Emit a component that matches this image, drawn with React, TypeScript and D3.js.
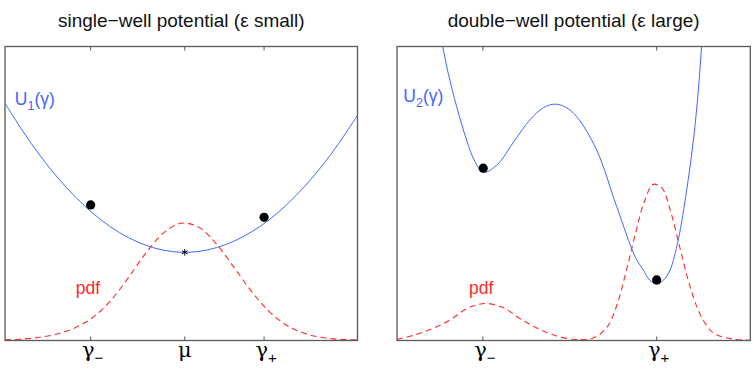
import { useRef, useEffect } from 'react';
import * as d3 from 'd3';

const W = 756;
const H = 375;

const titles = ['single−well potential (ε small)', 'double−well potential (ε large)'];

const u1Curve: [number, number][] = [
  [0, 80.7], [5, 71.3], [10, 62.8], [15, 55.3], [20, 48.8], [25, 43.2], [30, 38.6],
  [35, 35.0], [40, 32.4], [45, 30.7], [50, 30.0], [55, 30.3], [60, 31.6], [65, 33.8],
  [70, 37.0], [75, 41.1], [80, 46.3], [85, 52.4], [90, 59.5], [95, 67.6], [100, 76.6],
];

const pdf1Curve: [number, number][] = [
  [0, 0.2], [5, 0.5], [10, 1.1], [15, 2.3], [20, 4.4], [25, 7.9], [30, 13.6],
  [35, 21.4], [40, 29.8], [45, 36.6], [50, 39.9], [55, 38.5], [60, 32.8], [65, 24.8],
  [70, 16.6], [75, 9.8], [80, 5.1], [85, 2.4], [90, 1.0], [95, 0.4], [100, 0.2],
];

const u2Curve: [number, number][] = [
  [12, 104], [12.9, 100], [14.5, 90.9], [16.9, 79.5], [19.7, 68.2], [21.8, 61.5],
  [24.4, 57.2], [28.2, 59.6], [33.4, 68.2], [37.6, 75.0], [41.5, 79.2], [44.7, 80.4],
  [47.8, 79.3], [50.9, 76.1], [56.5, 64.8], [62.2, 45.5], [67.4, 28.5], [69.7, 24.0],
  [71.5, 20.6], [73.5, 19.2], [75.5, 20.6], [77.3, 24.0], [79.6, 34.2], [82.0, 51.2],
  [83.9, 68.2], [85.3, 85.2], [86.2, 100], [86.8, 110],
];

const pdf2Curve: [number, number][] = [
  [0, 0.4], [5, 1.9], [10, 4.0], [15, 7.0], [20, 11.0], [25, 12.6], [30, 11.2],
  [35, 7.3], [40, 4.0], [45, 1.6], [50, 0.4], [52.5, 0.3], [55, 0.6], [57.5, 2.2],
  [60, 5.5], [62.5, 13.0], [65, 24.2], [67.5, 36.4], [70, 47.2], [72.5, 53.1],
  [75, 51.8], [77.5, 43.7], [80, 31.9], [82.5, 20.2], [85, 11.1], [87.5, 5.3],
  [90, 2.2], [95, 0.5], [100, 0.1],
];

const dots1: [number, number][] = [[24.3, 46.1], [73.5, 41.9]];
const star1: [number, number][] = [[51, 30]];
const dots2: [number, number][] = [[24.4, 58.6], [73.5, 20.6]];

const ticks1 = [
  { v: 24.3, base: 'γ', sub: '−' },
  { v: 51, base: 'μ', sub: '' },
  { v: 73.5, base: 'γ', sub: '+' },
];
const ticks2 = [
  { v: 24.3, base: 'γ', sub: '−' },
  { v: 73.5, base: 'γ', sub: '+' },
];

const BLUE = '#4366ff';
const RED = '#ff2a2a';
const FONT = 'Liberation Sans, Arial, sans-serif';
const SERIF = 'DejaVu Serif, serif';

const App = () => {
  const svgRef = useRef<SVGSVGElement>(null);

  useEffect(() => {
    const svg = d3.select(svgRef.current);
    svg.selectAll('*').remove();

    const panels = [
      {
        left: 5, right: 357.5, title: titles[0], pot: u1Curve, pdf: pdf1Curve,
        dots: dots1, star: star1, ticks: ticks1, sub: '1', uPos: [2.8, 80], pdfPos: [20.1, 15.8],
      },
      {
        left: 397, right: 750.3, title: titles[1], pot: u2Curve, pdf: pdf2Curve,
        dots: dots2, star: [] as [number, number][], ticks: ticks2, sub: '2', uPos: [1.8, 81], pdfPos: [20.4, 15.8],
      },
    ];
    const top = 46.5;
    const bottom = 340.5;

    panels.forEach((p, i) => {
      const x = d3.scaleLinear().domain([0, 100]).range([p.left, p.right]);
      const y = d3.scaleLinear().domain([0, 100]).range([bottom, top]);
      const g = svg.append('g');

      const clipId = 'clip' + i;
      svg.append('clipPath').attr('id', clipId)
        .append('rect').attr('x', p.left).attr('y', top)
        .attr('width', p.right - p.left).attr('height', bottom - top);

      const line = d3.line<[number, number]>()
        .x((d) => x(d[0]))
        .y((d) => y(d[1]))
        .curve(d3.curveCatmullRom);

      const plot = g.append('g').attr('clip-path', `url(#${clipId})`);
      plot.append('path').attr('d', line(p.pdf))
        .attr('fill', 'none').attr('stroke', RED).attr('stroke-width', 1.1)
        .attr('stroke-dasharray', '6,4');
      plot.append('path').attr('d', line(p.pot))
        .attr('fill', 'none').attr('stroke', BLUE).attr('stroke-width', 1);

      // frame
      g.append('rect').attr('x', p.left).attr('y', top)
        .attr('width', p.right - p.left).attr('height', bottom - top)
        .attr('fill', 'none').attr('stroke', '#5a5a5a').attr('stroke-width', 1.3);

      // ticks top and bottom
      g.selectAll('.tb').data(p.ticks).join('line')
        .attr('x1', (d) => x(d.v)).attr('x2', (d) => x(d.v))
        .attr('y1', bottom).attr('y2', bottom - 4)
        .attr('stroke', '#555');
      g.selectAll('.tt').data(p.ticks).join('line')
        .attr('x1', (d) => x(d.v)).attr('x2', (d) => x(d.v))
        .attr('y1', top).attr('y2', top + 4)
        .attr('stroke', '#555');

      const labels = g.selectAll('.tl').data(p.ticks).join('text')
        .attr('x', (d) => x(d.v) + (d.sub ? 2 : 0))
        .attr('y', 357)
        .attr('text-anchor', 'middle')
        .attr('font-family', SERIF)
        .attr('font-size', 21)
        .attr('fill', '#000');
      labels.append('tspan').text((d) => d.base);
      labels.filter((d) => !!d.sub).append('tspan')
        .attr('dy', 6).attr('font-size', 15).attr('font-family', FONT).text((d) => d.sub);

      // markers
      g.selectAll('.dot').data(p.dots).join('circle')
        .attr('cx', (d) => x(d[0])).attr('cy', (d) => y(d[1]))
        .attr('r', 4.6).attr('fill', '#000');
      g.selectAll('.star').data(p.star).join('path')
        .attr('transform', (d) => `translate(${x(d[0])},${y(d[1])})`)
        .attr('d', d3.symbol(d3.symbolAsterisk, 30)())
        .attr('fill', 'none').attr('stroke', '#000').attr('stroke-width', 1);

      // title
      g.append('text').attr('x', (p.left + p.right) / 2).attr('y', 27)
        .attr('text-anchor', 'middle').attr('font-family', FONT)
        .attr('font-size', 19).attr('fill', '#111').text(p.title);

      // U label
      const u = g.append('text').attr('x', x(p.uPos[0])).attr('y', y(p.uPos[1]))
        .attr('font-family', FONT).attr('font-size', 17.5).attr('fill', BLUE);
      u.append('tspan').text('U');
      u.append('tspan').attr('dy', 5).attr('font-size', 12.5).text(p.sub);
      u.append('tspan').attr('dy', -5).text('(γ)');

      g.append('text').attr('x', x(p.pdfPos[0])).attr('y', y(p.pdfPos[1]))
        .attr('font-family', FONT).attr('font-size', 17.5).attr('fill', RED).text('pdf');
    });
  }, []);

  return (
    <svg
      ref={svgRef}
      width={W}
      height={H}
      style={{ position: 'absolute', left: 0, top: 0, background: '#fff' }}
    />
  );
};

export default App;
